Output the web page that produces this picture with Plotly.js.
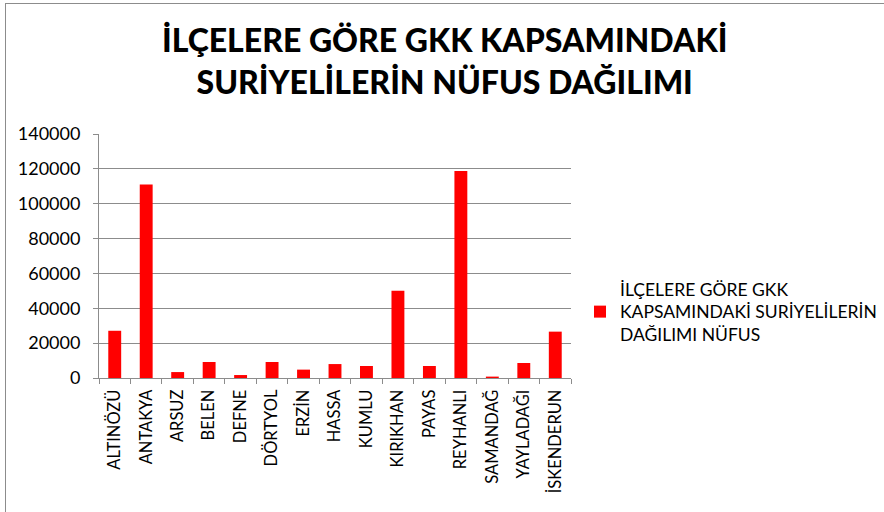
<!DOCTYPE html>
<html>
<head>
<meta charset="utf-8">
<script src="https://cdn.plot.ly/plotly-3.0.1.min.js"></script>
<style>
  html, body { margin: 0; padding: 0; background: #fff; }
  #wrap { position: relative; width: 884px; height: 512px; }
  #chart { width: 884px; height: 512px; }
  #frame { position: absolute; left: 5px; top: 3px; width: 879px; height: 509px; z-index: 10;
           border-left: 1px solid #8c8c8c; border-top: 1px solid #8c8c8c; pointer-events: none; box-sizing: border-box; }
</style>
</head>
<body>
<div id="wrap">
  <div id="chart"></div>
  <div id="frame"></div>
</div>
<script>
const categories = ["ALTINÖZÜ", "ANTAKYA", "ARSUZ", "BELEN", "DEFNE", "DÖRTYOL", "ERZİN", "HASSA",
  "KUMLU", "KIRIKHAN", "PAYAS", "REYHANLI", "SAMANDAĞ", "YAYLADAĞI", "İSKENDERUN"];
const populationValues = [27100, 111000, 3400, 9200, 1700, 9200, 4800, 8000,
  6900, 50000, 6900, 118800, 800, 8600, 26600];
const yTickValues = [0, 20000, 40000, 60000, 80000, 100000, 120000, 140000];
const yTickLabels = ["0", "20000", "40000", "60000", "80000", "100000", "120000", "140000"];
const seriesName = "İLÇELERE GÖRE GKK<br>KAPSAMINDAKİ SURİYELİLERİN<br>DAĞILIMI NÜFUS";
const chartTitle = "İLÇELERE GÖRE GKK KAPSAMINDAKİ<br>SURİYELİLERİN NÜFUS DAĞILIMI";

const font = "Lato, 'Open Sans', sans-serif";

Plotly.newPlot("chart", [{
  type: "bar",
  x: categories,
  y: populationValues,
  name: seriesName,
  marker: { color: "#FF0000" },
  showlegend: true
}], {
  width: 884, height: 512,
  margin: { l: 99, r: 313, t: 134, b: 134 },
  paper_bgcolor: "#fff", plot_bgcolor: "#fff",
  bargap: 0.59,
  font: { family: font, color: "#000" },
  title: {
    text: chartTitle,
    font: { family: font, size: 32, color: "#000", weight: 900 },
    xref: "container", x: 0.503, xanchor: "center",
    yref: "container", y: 1 - 52 / 512, yanchor: "middle"
  },
  xaxis: {
    type: "category",
    tickangle: -90,
    tickfont: { family: font, size: 16.5, color: "#000" },
    ticklabelstandoff: 4,
    showline: true, linecolor: "#8c8c8c", linewidth: 1,
    ticks: "outside", tickson: "boundaries", ticklen: 5, tickcolor: "#8c8c8c",
    showgrid: false, zeroline: false
  },
  yaxis: {
    range: [0, 140000],
    tickvals: yTickValues, ticktext: yTickLabels,
    tickfont: { family: font, size: 18, color: "#000" },
    ticklabelstandoff: 9,
    showline: true, linecolor: "#8c8c8c", linewidth: 1,
    ticks: "outside", ticklen: 5, tickcolor: "#8c8c8c",
    showgrid: true, gridcolor: "#8c8c8c", gridwidth: 1,
    zeroline: false
  },
  legend: {
    xref: "container", x: 580 / 884, xanchor: "left",
    yref: "container", y: 1 - 312 / 512, yanchor: "middle",
    font: { family: font, size: 17.5, color: "#000" },
    itemwidth: 30,
    bgcolor: "rgba(0,0,0,0)"
  }
}, { displayModeBar: false, staticPlot: true });
</script>
</body>
</html>
